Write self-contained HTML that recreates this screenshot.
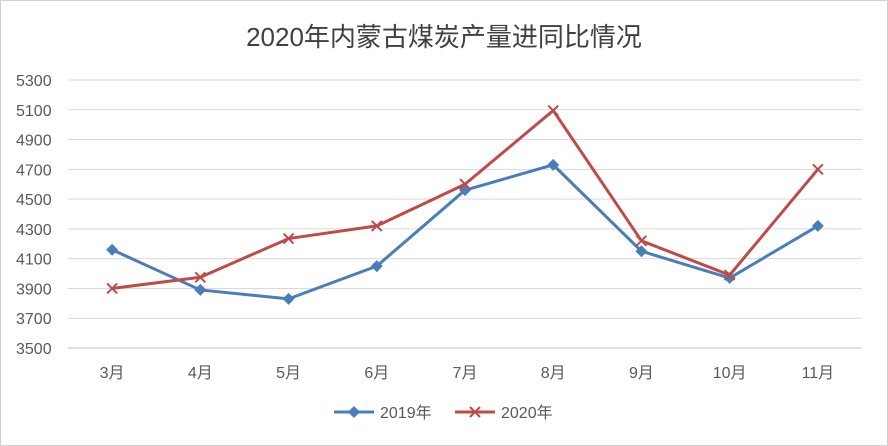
<!DOCTYPE html>
<html><head><meta charset="utf-8">
<style>
html,body{margin:0;padding:0;background:#fff;}
svg{display:block;font-family:"Liberation Sans","Noto Sans CJK SC",sans-serif;}
</style></head>
<body>
<svg id="chart" width="888" height="446" viewBox="0 0 888 446" xmlns="http://www.w3.org/2000/svg">
<rect x="0.5" y="0.5" width="887" height="445" fill="#fff" stroke="#d0d0d0"/>
<text x="444" y="46" text-anchor="middle" font-size="26" fill="#404040">2020年内蒙古煤炭产量进同比情况</text>
<g id="grid"></g><g id="ylab"></g><g id="xlab"></g><g id="series"></g>
<g>
<line x1="334" y1="412" x2="374" y2="412" stroke="#4A7EBB" stroke-width="3"/>
<path d="M354 406 L360 412 L354 418 L348 412 Z" fill="#4A7EBB"/>
<text x="380" y="418" font-size="16" fill="#595959">2019年</text>
<line x1="455" y1="412" x2="495" y2="412" stroke="#BE4B48" stroke-width="3"/>
<path d="M470 407 L480 417 M480 407 L470 417" stroke="#BE4B48" stroke-width="2"/>
<text x="501" y="418" font-size="16" fill="#595959">2020年</text>
</g>
</svg>
<script>
const categories=["3月","4月","5月","6月","7月","8月","9月","10月","11月"];
const series2019=[4160,3890,3830,4050,4560,4730,4150,3970,4320];
const series2020=[3900,3975,4235,4320,4600,5095,4220,3990,4700];
const yTicks=[3500,3700,3900,4100,4300,4500,4700,4900,5100,5300];
const NS="http://www.w3.org/2000/svg";
const L=68,R=862,T=80,B=348,yMin=3500,yMax=5300;
const step=(R-L)/categories.length;
const xs=i=>L+step*(i+0.5);
const ys=v=>B-(v-yMin)/(yMax-yMin)*(B-T);
function mk(tag,attrs,parent){const e=document.createElementNS(NS,tag);for(const k in attrs)e.setAttribute(k,attrs[k]);parent.appendChild(e);return e;}
const grid=document.getElementById('grid'),ylab=document.getElementById('ylab'),xlab=document.getElementById('xlab'),ser=document.getElementById('series');
yTicks.forEach(v=>{
 const g=mk('line',{x1:L,x2:R,y1:ys(v),y2:ys(v),stroke:v===yMin?'#bfbfbf':'#d9d9d9','stroke-width':1},grid);
 
 
 const t=mk('text',{x:16,y:ys(v)+6,'font-size':16,fill:'#595959'},ylab);
 t.textContent=v;
 
 
});
categories.forEach((c,i)=>{
 const t=mk('text',{x:xs(i),y:378,'text-anchor':'middle','font-size':16,fill:'#595959'},xlab);
 t.textContent=c;
 
 
});
function draw(data,color,kind){
 const p=mk('polyline',{points:data.map((v,i)=>xs(i)+','+ys(v)).join(' '),fill:'none',stroke:color,'stroke-width':3,'stroke-linejoin':'round'},ser);
 
 
 data.forEach((v,i)=>{
  const x=xs(i),y=ys(v);let m;
  if(kind==='2019')m=mk('path',{d:`M${x} ${y-6} L${x+6} ${y} L${x} ${y+6} L${x-6} ${y} Z`,fill:color},ser);
  else m=mk('path',{d:`M${x-5} ${y-5} L${x+5} ${y+5} M${x+5} ${y-5} L${x-5} ${y+5}`,stroke:color,'stroke-width':2},ser);
  
  
 });
}
draw(series2019,'#4A7EBB','2019');
draw(series2020,'#BE4B48','2020');
</script>
</body></html>
